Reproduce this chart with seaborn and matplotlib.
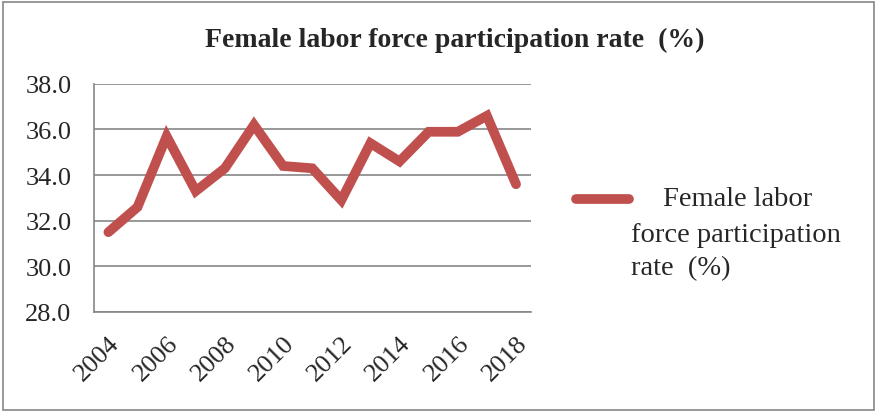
import numpy as np
import pandas as pd
import matplotlib
matplotlib.use('Agg')
import matplotlib.pyplot as plt
import seaborn as sns
from matplotlib.patches import Rectangle

years = list(range(2004, 2019))
rate = [31.5, 32.6, 35.7, 33.3, 34.3, 36.2, 34.4, 34.3, 32.9, 35.4, 34.6, 35.9, 35.9, 36.6, 33.6]
y_ticks = [28.0, 30.0, 32.0, 34.0, 36.0, 38.0]
series_name = 'Female labor force participation rate  (%)'

sns.set_style('white')
plt.rcParams['font.family'] = ['Liberation Serif', 'DejaVu Serif']

df = pd.DataFrame({'year': years, 'pos': np.arange(len(years)), 'rate': rate})

fig = plt.figure(figsize=(8.77, 4.14), dpi=100)
ax = fig.add_axes([0.107, 0.244, 0.498, 0.551])

sns.lineplot(data=df, x='pos', y='rate', ax=ax, color='#C0504D', linewidth=7,
             solid_joinstyle='miter', solid_capstyle='round', label='_nolegend_')

ax.set_xlim(-0.5, len(years) - 0.5)
ax.set_ylim(28, 38)
ax.set_yticks(y_ticks)
ax.set_yticklabels([f'{v:.1f}' for v in y_ticks], fontsize=19)
ax.yaxis.grid(True, color='#868686', linewidth=1.2)
ax.set_axisbelow(True)

# category boundaries as ticks, labels every other year
ax.set_xticks(np.arange(-0.5, len(years), 1.0))
ax.set_xticklabels([])
ax.set_xticks(df['pos'][::2], minor=True)
ax.set_xticklabels([str(y) for y in years[::2]], minor=True, fontsize=19,
                   rotation=45, ha='right', va='top', rotation_mode='anchor')
ax.tick_params(axis='x', which='major', length=4, color='#868686', width=1.2, direction='out')
ax.tick_params(axis='x', which='minor', length=0, pad=14)
ax.tick_params(axis='y', length=4, color='#868686', width=1.2, direction='out', pad=12)
ax.set_xlabel('')
ax.set_ylabel('')

for side in ['top', 'right']:
    ax.spines[side].set_visible(False)
for side in ['left', 'bottom']:
    ax.spines[side].set_color('#868686')
    ax.spines[side].set_linewidth(1.2)

fig.text(0.519, 0.903, series_name, ha='center', va='center', fontsize=20, fontweight='bold')

# legend drawn by hand
fig.lines.append(plt.Line2D([0.657, 0.717], [0.517, 0.517], transform=fig.transFigure,
                            color='#C0504D', linewidth=7, solid_capstyle='round'))
fig.text(0.756, 0.517, 'Female labor', ha='left', va='center', fontsize=20.5)
fig.text(0.719, 0.432, 'force participation', ha='left', va='center', fontsize=20.5)
fig.text(0.719, 0.352, 'rate  (%)', ha='left', va='center', fontsize=20.5)

fig.patches.append(Rectangle((0.003, 0.007), 0.994, 0.986, transform=fig.transFigure,
                             fill=False, edgecolor='#868686', linewidth=1.2))

fig.savefig('out.png', dpi=100)
